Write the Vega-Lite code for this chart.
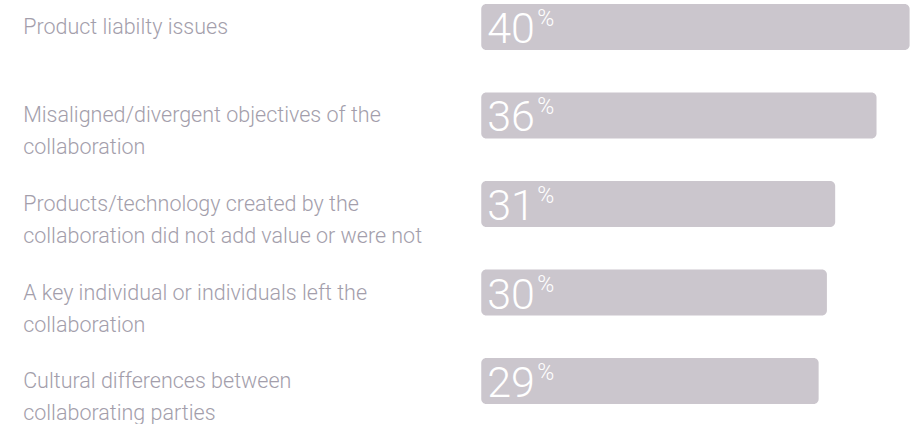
{
  "$schema": "https://vega.github.io/schema/vega-lite/v6.json",
  "width": 922,
  "height": 408,
  "autosize": {"type": "none"},
  "padding": {"left": 0, "top": 0, "right": 0, "bottom": 16},
  "background": "white",
  "config": {"view": {"stroke": null}},
  "data": {"values": [
    {"cause": "Product liabilty issues", "lines": ["Product liabilty issues"], "value": 40},
    {"cause": "Misaligned/divergent objectives of the collaboration", "lines": ["Misaligned/divergent objectives of the", "collaboration"], "value": 36},
    {"cause": "Products/technology created by the collaboration did not add value or were not", "lines": ["Products/technology created by the", "collaboration did not add value or were not"], "value": 31},
    {"cause": "A key individual or individuals left the collaboration", "lines": ["A key individual or individuals left the", "collaboration"], "value": 30},
    {"cause": "Cultural differences between collaborating parties", "lines": ["Cultural differences between", "collaborating parties"], "value": 29}
  ]},
  "encoding": {
    "y": {"field": "cause", "type": "nominal", "sort": null, "axis": null,
          "scale": {"paddingInner": 0.48, "paddingOuter": 0.045}}
  },
  "layer": [
    {
      "mark": {"type": "bar", "color": "#cbc6cd", "cornerRadius": 5},
      "encoding": {
        "x": {"field": "value", "type": "quantitative", "axis": null,
              "scale": {"domain": [-70, 41.5], "nice": false, "zero": false}},
        "x2": {"datum": -11.8}
      }
    },
    {
      "mark": {"type": "text", "align": "left", "baseline": "top", "dy": -10, "font": "Roboto", "fontWeight": 300, "fontSize": 21.5, "lineHeight": 32, "color": "#a39eab"},
      "encoding": {
        "x": {"datum": -67.2},
        "text": {"field": "lines"}
      }
    },
    {
      "mark": {"type": "text", "align": "left", "baseline": "middle", "dx": 6, "dy": 3, "font": "Roboto", "fontWeight": 300, "fontSize": 43, "color": "white"},
      "encoding": {
        "x": {"datum": -11.8},
        "text": {"field": "value", "type": "quantitative", "format": "d"}
      }
    },
    {
      "mark": {"type": "text", "align": "left", "baseline": "middle", "dx": 56, "dy": -8, "font": "Roboto", "fontWeight": 300, "fontSize": 23, "color": "white"},
      "encoding": {
        "x": {"datum": -11.8},
        "text": {"value": "%"}
      }
    }
  ]
}
